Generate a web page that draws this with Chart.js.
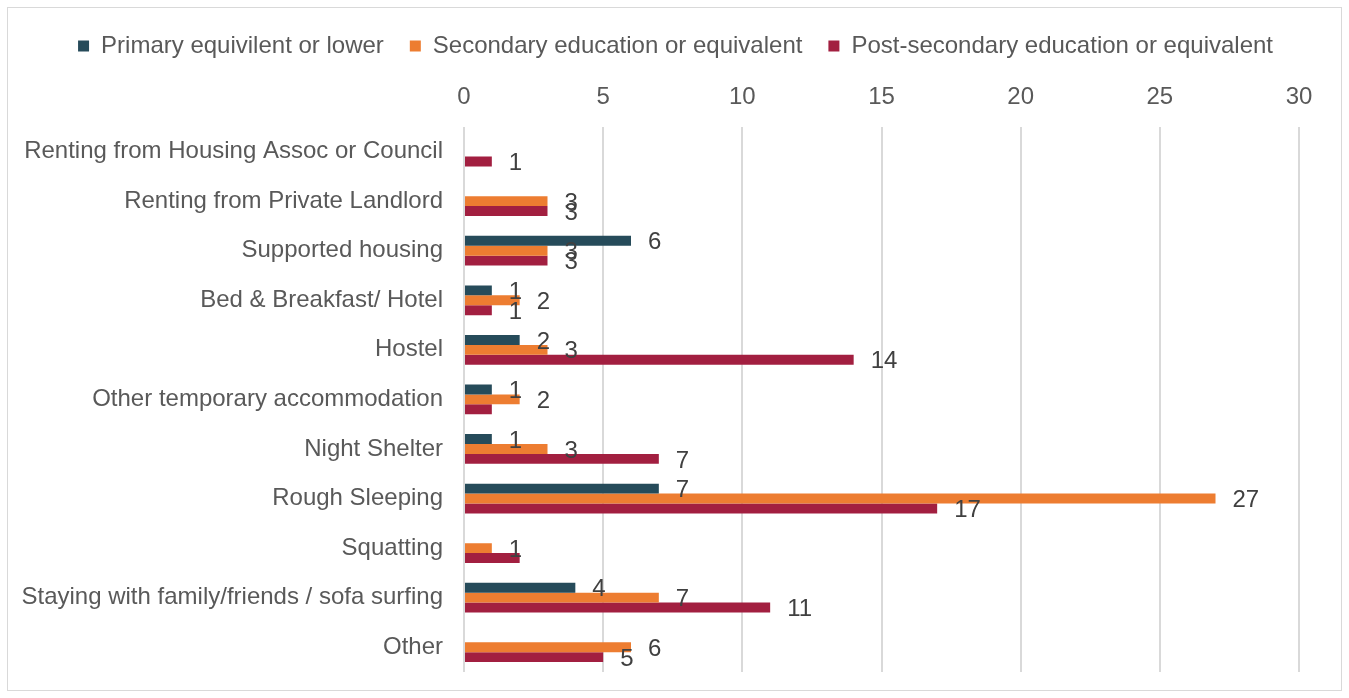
<!DOCTYPE html>
<html>
<head>
<meta charset="utf-8">
<script src="https://cdn.jsdelivr.net/npm/chart.js@4.4.0/dist/chart.umd.min.js"></script>
<style>
    body { margin: 0; background: #fff; }
    #frame {
        position: absolute;
        left: 7px;
        top: 7px;
        width: 1333px;
        height: 682px;
        border: 1px solid #d9d9d9;
    }
</style>
</head>
<body>
<div id="frame"><canvas id="myChart"></canvas></div>
<script>
const categories = [
    "Renting from Housing Assoc or Council",
    "Renting from Private Landlord",
    "Supported housing",
    "Bed & Breakfast/ Hotel",
    "Hostel",
    "Other temporary accommodation",
    "Night Shelter",
    "Rough Sleeping",
    "Squatting",
    "Staying with family/friends / sofa surfing",
    "Other",
];
const primary = [0, 0, 6, 1, 2, 1, 1, 7, 0, 4, 0];
const secondary = [0, 3, 3, 2, 3, 2, 3, 27, 1, 7, 6];
const postSecondary = [1, 3, 3, 1, 14, 1, 7, 17, 2, 11, 5];
const xTicks = [0, 5, 10, 15, 20, 25, 30];
// labels that the original chart does not show: [series, category]
const hiddenLabels = [[2, 5], [2, 8]];

const colors = {
    primary: "#264b5a",
    secondary: "#ed7d31",
    post: "#a21f40",
};
const fontFamily = "'Liberation Sans', Arial, sans-serif";

// value labels next to each bar end
const barLabels = {
    id: "barLabels",
    afterDatasetsDraw(chart) {
        const c = chart.ctx;
        c.save();
        c.font = "24px " + fontFamily;
        c.fillStyle = "#404040";
        c.textAlign = "left";
        c.textBaseline = "middle";
        chart.data.datasets.forEach((ds, di) => {
            const meta = chart.getDatasetMeta(di);
            meta.data.forEach((bar, i) => {
                const v = ds.data[i];
                if (!v) return;
                if (hiddenLabels.some((h) => h[0] === di && h[1] === i)) return;
                c.fillText(String(v), bar.x + 17, bar.y + 2);
            });
        });
        c.restore();
    },
};

const ctx = document.getElementById("myChart");
const chart = new Chart(ctx, {
    type: "bar",
    data: {
        labels: categories,
        datasets: [
            {
                label: "Primary equivilent or lower",
                data: primary,
                backgroundColor: colors.primary,
            },
            {
                label: "Secondary education or equivalent",
                data: secondary,
                backgroundColor: colors.secondary,
            },
            {
                label: "Post-secondary education or equivalent",
                data: postSecondary,
                backgroundColor: colors.post,
            },
        ],
    },
    options: {
        indexAxis: "y",
        responsive: true,
        maintainAspectRatio: false,
        animation: false,
        categoryPercentage: 0.6,
        barPercentage: 1,
        layout: {
            padding: { top: 0, left: 0, right: 42, bottom: 18 },
        },
        plugins: {
            legend: {
                position: "top",
                align: "end",
                labels: {
                    boxWidth: 11,
                    boxHeight: 11,
                    padding: 26,
                    color: "#595959",
                    font: { family: fontFamily, size: 24 },
                },
            },
            tooltip: { enabled: false },
        },
        scales: {
            x: {
                position: "top",
                min: 0,
                max: 30,
                afterBuildTicks: (axis) => {
                    axis.ticks = xTicks.map((v) => ({ value: v }));
                },
                grid: {
                    color: "#d9d9d9",
                    lineWidth: 2,
                    drawTicks: false,
                },
                border: { display: false },
                ticks: {
                    padding: 15,
                    color: "#595959",
                    font: { family: fontFamily, size: 24 },
                },
            },
            y: {
                afterFit: (axis) => {
                    axis.width = 456;
                    // don't let the label padding push the plot up from the bottom
                    axis.paddingTop = 0;
                    axis.paddingBottom = 0;
                },
                grid: { display: false, drawTicks: false },
                border: { display: false },
                ticks: {
                    padding: 21,
                    color: "#595959",
                    font: { family: fontFamily, size: 24 },
                },
            },
        },
    },
    plugins: [barLabels],
});
</script>
</body>
</html>
